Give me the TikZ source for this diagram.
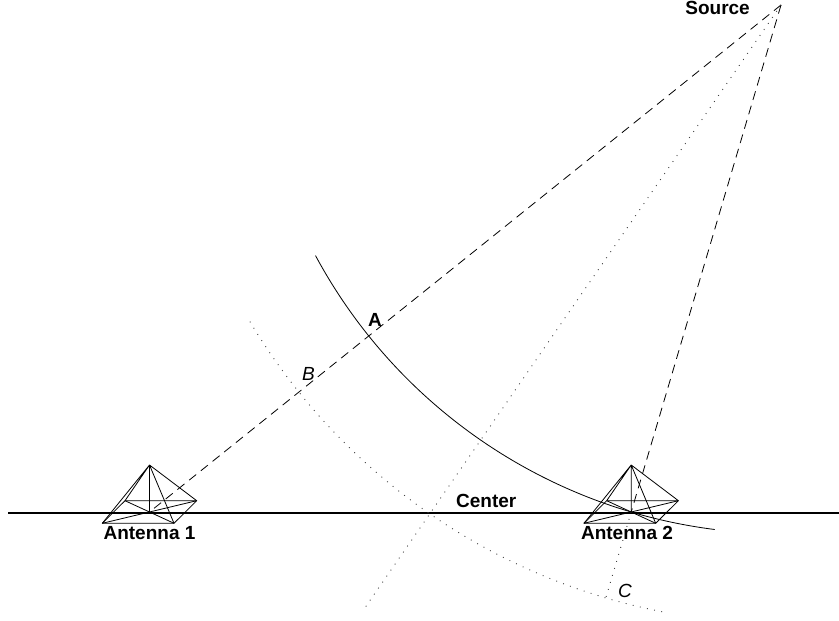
\documentclass[tikz,border=0pt]{standalone}
\usepackage{fontspec}
\setmainfont{Liberation Sans}
\usetikzlibrary{calc}
\begin{document}
\begin{tikzpicture}[x=1pt,y=1pt,
  thinline/.style={line width=0.8pt},
  dashline/.style={line width=0.8pt, dash pattern=on 9pt off 6pt},
  dotline/.style={line width=0.9pt, dash pattern=on 0.9pt off 6.4pt, black!75},
  lbl/.style={inner sep=0pt, font=\fontsize{19}{22}\selectfont\bfseries},
  ilbl/.style={inner sep=0pt, font=\fontsize{19}{22}\selectfont\itshape},
  antenna/.pic={
    \coordinate (-apex) at (0,47);
    \coordinate (-l) at (-47.2,-11.3);
    \coordinate (-br) at (24.5,-11.3);
    \coordinate (-r) at (47.2,11.3);
    \coordinate (-bl) at (-24.5,11.3);
    \coordinate (-c) at (0,0);
    \draw[thinline,line join=round] (-l) -- (-br) -- (-r) -- (-bl) -- cycle;
    \draw[thinline] (-l) -- (-r) (-bl) -- (-br);
    \draw[thinline] (-apex) -- (-l) (-apex) -- (-br) (-apex) -- (-r) (-apex) -- (-bl) (-apex) -- (-c);
  }
]
\useasboundingbox (0,0) rectangle (839,621);
\fill[white] (0,0) rectangle (839,621);

\coordinate (S) at (781,616);
\coordinate (A1) at (149.5,109);
\coordinate (A2) at (631.2,109);
\coordinate (P) at (430,107.5);
\coordinate (Cpt) at ($(S)!618.3pt!(A2)$);
\coordinate (Dend) at ($(S)!1.1886!(P)$);
\coordinate (BaseL) at (8,107.5);
\coordinate (BaseR) at (839,107.5);

% baseline
\draw[line width=2pt] (BaseL) -- (BaseR);

% antennas
\pic (ant1) at (A1) {antenna};
\pic (ant2) at (A2) {antenna};

% rays from the source
\draw[dashline] (S) -- (A1);
\draw[dashline] (S) -- (A2);
\draw[dotline] (S) -- (Dend);
\draw[dotline] (A2) -- (Cpt);

% wavefronts
\draw[thinline] ($(S)+(208.3:528.7pt)$) arc[start angle=208.3, end angle=262.8, radius=528.7pt];
\draw[dotline] ($(S)+(210.8:618.3pt)$) arc[start angle=210.8, end angle=259.5, radius=618.3pt];

% labels
\node[lbl, anchor=base east] (src) at (750,606) {Source};
\node[lbl, anchor=base west] (ctr) at (456,113) {Center};
\node[lbl, anchor=base, fill=white] (l1) at (149.5,81) {Antenna 1};
\node[lbl, anchor=base, fill=white] (l2) at (627,81) {Antenna 2};
\node[lbl, anchor=base] (la) at (375,294) {A};
\node[ilbl, anchor=base] (lb) at (308.5,240.5) {B};
\node[ilbl, anchor=base] (lc) at (625,23.7) {C};
\end{tikzpicture}
\end{document}
